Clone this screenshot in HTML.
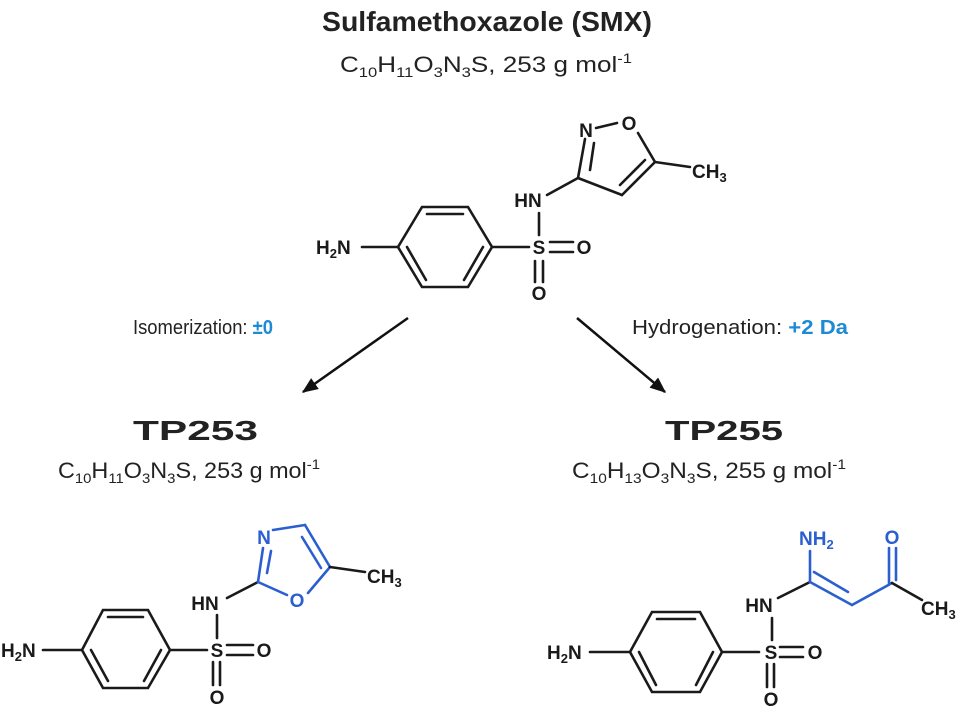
<!DOCTYPE html>
<html><head><meta charset="utf-8"><style>
html,body{margin:0;padding:0;background:#fff;}
svg{display:block;}
.t{font-family:"Liberation Sans",sans-serif;fill:#222;}
.c{font-family:"Liberation Sans",sans-serif;font-weight:bold;font-size:19px;fill:#1a1a1a;}
.b{stroke:#1a1a1a;stroke-width:2.6;fill:none;stroke-linecap:round;}
.bl{stroke:#2b5fd0;stroke-width:2.6;fill:none;stroke-linecap:round;}
</style></head><body>
<svg width="967" height="714" viewBox="0 0 967 714" xmlns="http://www.w3.org/2000/svg">
<defs>
<marker id="ah2" viewBox="0 0 12 10" markerWidth="16" markerHeight="14" refX="11" refY="5" orient="auto" markerUnits="userSpaceOnUse"><path d="M0,0 L12,5 L0,10 z" fill="#111"/></marker></defs>

<text class="t" x="487" y="31" text-anchor="middle" font-size="28" font-weight="bold" textLength="330" lengthAdjust="spacingAndGlyphs">Sulfamethoxazole (SMX)</text>
<text class="t" x="340" y="72" font-size="22" textLength="292" lengthAdjust="spacingAndGlyphs">C<tspan font-size="14" dy="5">10</tspan><tspan dy="-5">H</tspan><tspan font-size="14" dy="5">11</tspan><tspan dy="-5">O</tspan><tspan font-size="14" dy="5">3</tspan><tspan dy="-5">N</tspan><tspan font-size="14" dy="5">3</tspan><tspan dy="-5">S, 253 g mol</tspan><tspan font-size="14" dy="-9">-1</tspan></text>

<!-- SMX -->
<g>
<line class="b" x1="362" y1="247" x2="398" y2="247"/>
<polygon class="b" points="398,247 422,207 468,207 492,247 468,287 422,287"/>
<line class="b" x1="427" y1="214" x2="463" y2="214"/>
<line class="b" x1="483" y1="247" x2="464" y2="280"/>
<line class="b" x1="407" y1="247" x2="426" y2="280"/>
<line class="b" x1="492" y1="247" x2="529" y2="247"/>
<line class="b" x1="550" y1="242" x2="573" y2="242"/>
<line class="b" x1="550" y1="252" x2="573" y2="252"/>
<line class="b" x1="535" y1="261" x2="535" y2="282"/>
<line class="b" x1="543" y1="261" x2="543" y2="282"/>
<line class="b" x1="539" y1="213" x2="539" y2="235"/>
<line class="b" x1="547" y1="195" x2="578" y2="178"/>
<line class="b" x1="578" y1="178" x2="585" y2="139"/>
<line class="b" x1="590" y1="170" x2="594" y2="143"/>
<line class="b" x1="596" y1="128" x2="617" y2="123"/>
<line class="b" x1="638" y1="133" x2="655" y2="162"/>
<line class="b" x1="578" y1="178" x2="622" y2="195"/>
<line class="b" x1="622" y1="195" x2="655" y2="162"/>
<line class="b" x1="620" y1="185" x2="645" y2="160"/>
<line class="b" x1="655" y1="162" x2="690" y2="167"/>
<text class="c" x="316" y="254">H<tspan font-size="13" dy="4">2</tspan><tspan dy="-4">N</tspan></text>
<text class="c" x="539" y="254" text-anchor="middle">S</text>
<text class="c" x="584" y="254" text-anchor="middle">O</text>
<text class="c" x="539" y="300" text-anchor="middle">O</text>
<text class="c" x="528" y="207" text-anchor="middle">HN</text>
<text class="c" x="586" y="137" text-anchor="middle">N</text>
<text class="c" x="629" y="130" text-anchor="middle">O</text>
<text class="c" x="692" y="178">CH<tspan font-size="13" dy="4">3</tspan></text>
</g>

<!-- arrows -->
<line x1="408" y1="318" x2="303" y2="392" stroke="#111" stroke-width="2.5" marker-end="url(#ah2)"/>
<line x1="577" y1="318" x2="665" y2="392" stroke="#111" stroke-width="2.5" marker-end="url(#ah2)"/>
<text class="t" x="133" y="334" font-size="20" textLength="140" lengthAdjust="spacingAndGlyphs">Isomerization: <tspan fill="#1d8ad6" font-weight="bold">±0</tspan></text>
<text class="t" x="632" y="334" font-size="20" textLength="216" lengthAdjust="spacingAndGlyphs">Hydrogenation: <tspan fill="#1d8ad6" font-weight="bold">+2 Da</tspan></text>

<text class="t" x="133" y="440" font-size="28" font-weight="bold" textLength="125" lengthAdjust="spacingAndGlyphs">TP253</text>
<text class="t" x="58" y="478" font-size="22" textLength="262" lengthAdjust="spacingAndGlyphs">C<tspan font-size="14" dy="5">10</tspan><tspan dy="-5">H</tspan><tspan font-size="14" dy="5">11</tspan><tspan dy="-5">O</tspan><tspan font-size="14" dy="5">3</tspan><tspan dy="-5">N</tspan><tspan font-size="14" dy="5">3</tspan><tspan dy="-5">S, 253 g mol</tspan><tspan font-size="14" dy="-9">-1</tspan></text>
<text class="t" x="665" y="440" font-size="28" font-weight="bold" textLength="118" lengthAdjust="spacingAndGlyphs">TP255</text>
<text class="t" x="572" y="478" font-size="22" textLength="274" lengthAdjust="spacingAndGlyphs">C<tspan font-size="14" dy="5">10</tspan><tspan dy="-5">H</tspan><tspan font-size="14" dy="5">13</tspan><tspan dy="-5">O</tspan><tspan font-size="14" dy="5">3</tspan><tspan dy="-5">N</tspan><tspan font-size="14" dy="5">3</tspan><tspan dy="-5">S, 255 g mol</tspan><tspan font-size="14" dy="-9">-1</tspan></text>

<!-- TP253 -->
<g>
<line class="b" x1="43" y1="650" x2="82" y2="650"/>
<polygon class="b" points="82,650 103,610 148,610 170,650 148,688 103,688"/>
<line class="b" x1="108" y1="617" x2="143" y2="617"/>
<line class="b" x1="161" y1="650" x2="144" y2="681"/>
<line class="b" x1="91" y1="650" x2="108" y2="681"/>
<line class="b" x1="170" y1="650" x2="207" y2="650"/>
<line class="b" x1="227" y1="645" x2="253" y2="645"/>
<line class="b" x1="227" y1="655" x2="253" y2="655"/>
<line class="b" x1="213" y1="662" x2="213" y2="685"/>
<line class="b" x1="220" y1="662" x2="220" y2="685"/>
<line class="b" x1="217" y1="615" x2="217" y2="638"/>
<line class="b" x1="227" y1="598" x2="258" y2="582"/>
<line class="bl" x1="258" y1="582" x2="263" y2="548"/>
<line class="bl" x1="267" y1="573" x2="271" y2="551"/>
<line class="bl" x1="273" y1="530" x2="305" y2="525"/>
<line class="bl" x1="305" y1="525" x2="330" y2="567"/>
<line class="bl" x1="302" y1="537" x2="321" y2="568"/>
<line class="bl" x1="330" y1="567" x2="308" y2="593"/>
<line class="bl" x1="287" y1="595" x2="258" y2="582"/>
<line class="b" x1="330" y1="567" x2="365" y2="572"/>
<text class="c" x="1" y="657">H<tspan font-size="13" dy="4">2</tspan><tspan dy="-4">N</tspan></text>
<text class="c" x="217" y="657" text-anchor="middle">S</text>
<text class="c" x="264" y="657" text-anchor="middle">O</text>
<text class="c" x="217" y="704" text-anchor="middle">O</text>
<text class="c" x="205" y="610" text-anchor="middle">HN</text>
<text class="c" x="264" y="544" text-anchor="middle" style="fill:#2b5fd0">N</text>
<text class="c" x="297" y="607" text-anchor="middle" style="fill:#2b5fd0">O</text>
<text class="c" x="367" y="583">CH<tspan font-size="13" dy="4">3</tspan></text>
</g>

<!-- TP255 -->
<g>
<line class="b" x1="590" y1="652" x2="630" y2="652"/>
<polygon class="b" points="630,652 652,612 700,612 722,652 700,692 652,692"/>
<line class="b" x1="657" y1="619" x2="695" y2="619"/>
<line class="b" x1="713" y1="652" x2="696" y2="685"/>
<line class="b" x1="639" y1="652" x2="656" y2="685"/>
<line class="b" x1="722" y1="652" x2="759" y2="652"/>
<line class="b" x1="780" y1="647" x2="803" y2="647"/>
<line class="b" x1="780" y1="657" x2="803" y2="657"/>
<line class="b" x1="767" y1="664" x2="767" y2="687"/>
<line class="b" x1="774" y1="664" x2="774" y2="687"/>
<line class="b" x1="772" y1="618" x2="772" y2="640"/>
<line class="b" x1="778" y1="598" x2="810" y2="582"/>
<line class="bl" x1="810" y1="582" x2="810" y2="551"/>
<line class="bl" x1="810" y1="582" x2="852" y2="605"/>
<line class="bl" x1="814" y1="572" x2="848" y2="592"/>
<line class="bl" x1="852" y1="605" x2="892" y2="583"/>
<line class="bl" x1="889" y1="583" x2="889" y2="548"/>
<line class="bl" x1="896" y1="580" x2="896" y2="548"/>
<line class="b" x1="892" y1="583" x2="922" y2="600"/>
<text class="c" x="547" y="659">H<tspan font-size="13" dy="4">2</tspan><tspan dy="-4">N</tspan></text>
<text class="c" x="771" y="659" text-anchor="middle">S</text>
<text class="c" x="815" y="659" text-anchor="middle">O</text>
<text class="c" x="771" y="706" text-anchor="middle">O</text>
<text class="c" x="759" y="612" text-anchor="middle">HN</text>
<text class="c" x="799" y="545" style="fill:#2b5fd0">NH<tspan font-size="13" dy="4">2</tspan></text>
<text class="c" x="892" y="544" text-anchor="middle" style="fill:#2b5fd0">O</text>
<text class="c" x="921" y="615">CH<tspan font-size="13" dy="4">3</tspan></text>
</g>
</svg>
</body></html>
